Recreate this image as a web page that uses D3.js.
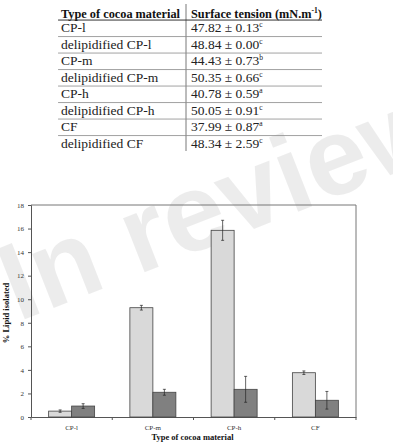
<!DOCTYPE html>
<html>
<head>
<meta charset="utf-8">
<script src="https://cdn.jsdelivr.net/npm/d3@7"></script>
<style>
  body { margin: 0; background: #fff; }
  svg { display: block; font-family: "Liberation Serif", "Times New Roman", serif; }
</style>
</head>
<body>
<svg id="canvas" width="393" height="445"></svg>
<script>
// table data
let tableMaterials = ['CP-l', 'delipidified CP-l', 'CP-m', 'delipidified CP-m', 'CP-h', 'delipidified CP-h', 'CF', 'delipidified CF']
let tensionMeans = ['47.82', '48.84', '44.43', '50.35', '40.78', '50.05', '37.99', '48.34']
let tensionSds = ['0.13', '0.00', '0.73', '0.66', '0.59', '0.91', '0.87', '2.59']
let tensionLetters = ['c', 'c', 'b', 'c', 'a', 'c', 'a', 'c']

// chart data
let categories = ['CP-l', 'CP-m', 'CP-h', 'CF']
let lipidLight = [0.5, 9.28, 15.85, 3.76]
let lipidLightErr = [0.1, 0.2, 0.85, 0.15]
let lipidDark = [0.93, 2.1, 2.35, 1.42]
let lipidDarkErr = [0.2, 0.25, 1.1, 0.75]
let yTicks = [0, 2, 4, 6, 8, 10, 12, 14, 16, 18]

let svg = d3.select('#canvas')

// watermark
svg.append('text')
   .attr('transform', 'translate(18,322) rotate(-21.5)')
   .attr('font-family', 'Liberation Sans, Arial, sans-serif')
   .attr('font-weight', 'bold')
   .attr('font-size', 110)
   .attr('fill', '#000')
   .attr('fill-opacity', 0.075)
   .text('In review')

// ---- table ----
let colSplit = 186
let tableRight = 322
let headerMid = 14
let rowH = 16.5
let firstMid = 27.8
let headSize = 12.3
let bodySize = 13.5

let table = svg.append('g')

let head1 = table.append('text')
     .attr('y', headerMid + 4.3)
     .attr('font-weight', 'bold').attr('font-size', headSize)
     .attr('fill', '#111')
     .text('Type of cocoa material')
let textLeft = 180 - head1.node().getComputedTextLength()
head1.attr('x', textLeft)
let tableLeft = textLeft - 3

table.append('line')
     .attr('x1', colSplit).attr('x2', colSplit)
     .attr('y1', 4).attr('y2', 151)
     .attr('stroke', '#555').attr('stroke-width', 0.8)

let head2 = table.append('text')
     .attr('x', colSplit + 5).attr('y', headerMid + 4.3)
     .attr('font-weight', 'bold').attr('font-size', headSize)
     .attr('fill', '#111')
head2.append('tspan').text('Surface tension (mN.m')
head2.append('tspan').attr('dy', -5).attr('font-size', 7.5).text('-1')
head2.append('tspan').attr('dy', 5).text(')')

let lineYs = d3.range(tableMaterials.length).map((i) => firstMid + i * rowH - rowH / 2 + 0.5)
table.selectAll('line.row')
     .data(lineYs)
     .enter()
     .append('line')
     .attr('class', 'row')
     .attr('x1', tableLeft).attr('x2', tableRight)
     .attr('y1', (y) => y).attr('y2', (y) => y)
     .attr('stroke', (y, i) => i === 0 ? '#333' : '#8a8a8a')
     .attr('stroke-width', (y, i) => i === 0 ? 1 : 0.8)

tableMaterials.forEach((name, i) => {
    let y = firstMid + i * rowH + 4.6
    table.append('text')
         .attr('x', textLeft).attr('y', y)
         .attr('font-size', bodySize).attr('fill', '#222')
         .text(name)
    let t = table.append('text')
         .attr('x', colSplit + 5).attr('y', y)
         .attr('font-size', bodySize).attr('fill', '#222')
    t.append('tspan').text(tensionMeans[i] + ' \u00b1 ' + tensionSds[i])
    t.append('tspan').attr('dy', -5).attr('font-size', 7.5).text(tensionLetters[i])
})

// ---- bar chart ----
let plotLeft = 31
let plotRight = 356
let plotTop = 205
let plotBottom = 417

let x = d3.scaleBand()
          .domain(categories)
          .range([plotLeft, plotRight])

let barW = 23
let y = d3.scaleLinear()
          .domain([0, 18])
          .range([plotBottom, plotTop])

let chart = svg.append('g')

// frame top & right
chart.append('path')
     .attr('d', 'M' + plotLeft + ',' + plotTop + 'H' + plotRight + 'V' + plotBottom)
     .attr('fill', 'none')
     .attr('stroke', '#777')
     .attr('stroke-width', 1)

let yAxis = chart.append('g')
     .attr('transform', 'translate(' + plotLeft + ',0)')
     .call(d3.axisLeft(y).tickValues(yTicks).tickSize(3).tickPadding(4))
yAxis.selectAll('path, line').attr('stroke', '#555')
yAxis.selectAll('text').attr('font-family', 'Liberation Serif').attr('font-size', 7).attr('fill', '#333')

let xAxis = chart.append('g')
     .attr('transform', 'translate(0,' + plotBottom + ')')
     .call(d3.axisBottom(x).tickSize(0).tickPadding(8))
xAxis.select('.domain').attr('stroke', '#555')
xAxis.selectAll('text').attr('font-family', 'Liberation Serif').attr('font-size', 7).attr('fill', '#333')

// category separators on the x axis
let sepX = categories.map((c) => x(c)).concat([plotRight])
chart.selectAll('line.sep')
     .data(sepX)
     .enter()
     .append('line')
     .attr('class', 'sep')
     .attr('x1', (d) => d).attr('x2', (d) => d)
     .attr('y1', plotBottom).attr('y2', plotBottom + 3)
     .attr('stroke', '#555')

let series = [
    { vals: lipidLight, errs: lipidLightErr, fill: '#d9d9d9', off: -barW },
    { vals: lipidDark, errs: lipidDarkErr, fill: '#808080', off: 0 }
]

series.forEach((s) => {
    let g = chart.append('g')
    g.selectAll('rect')
     .data(categories)
     .enter()
     .append('rect')
     .attr('x', (c) => x(c) + x.bandwidth() / 2 + s.off)
     .attr('y', (c, i) => y(s.vals[i]))
     .attr('width', barW)
     .attr('height', (c, i) => y(0) - y(s.vals[i]))
     .attr('fill', s.fill)
     .attr('stroke', '#444')
     .attr('stroke-width', 0.8)

    categories.forEach((c, i) => {
        let cx = x(c) + x.bandwidth() / 2 + s.off + barW / 2
        let hi = y(s.vals[i] + s.errs[i])
        let lo = y(s.vals[i] - s.errs[i])
        g.append('line').attr('x1', cx).attr('x2', cx).attr('y1', hi).attr('y2', lo)
         .attr('stroke', '#222').attr('stroke-width', 0.7)
        g.append('line').attr('x1', cx - 1.5).attr('x2', cx + 1.5).attr('y1', hi).attr('y2', hi)
         .attr('stroke', '#222').attr('stroke-width', 0.7)
        g.append('line').attr('x1', cx - 1.5).attr('x2', cx + 1.5).attr('y1', lo).attr('y2', lo)
         .attr('stroke', '#222').attr('stroke-width', 0.7)
    })
})

// axis titles
svg.append('text')
   .attr('x', (plotLeft + plotRight) / 2 - 1)
   .attr('y', 440)
   .attr('text-anchor', 'middle')
   .attr('font-weight', 'bold')
   .attr('font-size', 8.5)
   .attr('fill', '#111')
   .text('Type of cocoa material')

svg.append('text')
   .attr('transform', 'translate(9,' + ((plotTop + plotBottom) / 2 + 2) + ') rotate(-90)')
   .attr('text-anchor', 'middle')
   .attr('font-weight', 'bold')
   .attr('font-size', 8.5)
   .attr('fill', '#111')
   .text('% Lipid isolated')
</script>
</body>
</html>
